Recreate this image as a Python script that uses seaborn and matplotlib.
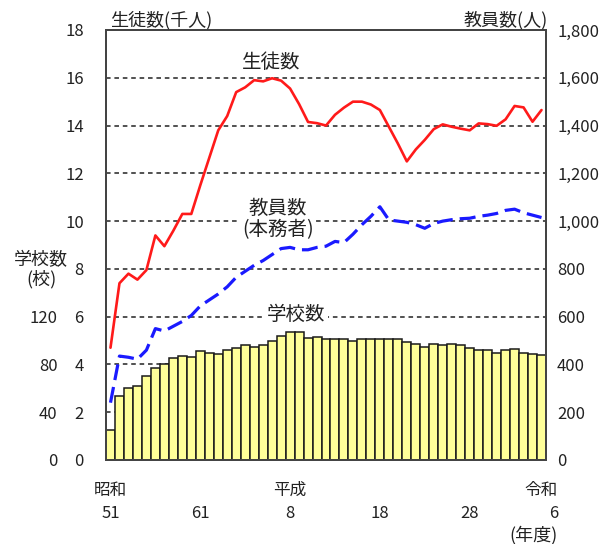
import numpy as np
import pandas as pd
import matplotlib
matplotlib.use("Agg")
import matplotlib.pyplot as plt
import seaborn as sns

years = list(range(1976, 2025))
schools = [25, 54, 60, 62, 70, 77, 80, 85, 87, 86, 91, 90, 89, 92, 94, 96, 95, 96, 100, 104,
           107, 107, 102, 103, 101, 101, 101, 100, 101, 101, 101, 101, 101, 99, 97, 95, 97, 96, 97, 96,
           94, 92, 92, 90, 92, 93, 90, 89, 88]
students = [4.7, 7.4, 7.8, 7.55, 7.95, 9.4, 8.95, 9.6, 10.3, 10.3, 11.5, 12.65, 13.8, 14.4, 15.4,
            15.6, 15.9, 15.85, 15.98, 15.88, 15.55, 14.9, 14.15, 14.1, 14.0, 14.45, 14.75, 15.0, 15.0,
            14.88, 14.65, 13.95, 13.25, 12.5, 13.0, 13.4, 13.85, 14.05, 13.95, 13.87, 13.8, 14.09,
            14.06, 13.99, 14.26, 14.82, 14.76, 14.16, 14.65]
teachers = [240, 435, 430, 422, 460, 550, 540, 560, 580, 605, 645, 670, 695, 725, 765, 790, 815, 835,
            860, 885, 890, 880, 880, 890, 895, 915, 910, 945, 985, 1020, 1060, 1005, 1000, 995, 985,
            970, 990, 1000, 1006, 1010, 1012, 1020, 1025, 1032, 1045, 1050, 1035, 1025, 1015]

x_tick_years = [1976, 1986, 1996, 2006, 2016, 2024]
x_tick_labels = ["昭和\n51", "\n61", "平成\n8", "\n18", "\n28", "令和\n6"]
student_ticks = list(range(0, 19, 2))
school_ticks = [0, 40, 80, 120]
teacher_ticks = list(range(0, 1801, 200))

sns.set_theme(style="white")
plt.rcParams["font.family"] = ["Noto Sans CJK JP", "DejaVu Sans"]

TXT = "#222222"
df = pd.DataFrame({"year": years, "schools": schools, "students": students, "teachers": teachers})

fig = plt.figure(figsize=(6.16, 5.44), dpi=100)
ax = fig.add_axes([106 / 616, 84 / 544, 440 / 616, 430 / 544])

sns.barplot(data=df, x="year", y="schools", native_scale=True, width=1, color="#FFFF99",
            edgecolor="#1a1a1a", linewidth=1.1, saturation=1, ax=ax, zorder=2)
ax.set_ylim(0, 360)
grid_vals = [t * 20 for t in student_ticks]
ax.set_yticks(grid_vals)
ax.set_yticklabels([str(v) if v in school_ticks else "" for v in grid_vals])
ax.yaxis.grid(True, linestyle=(0, (3, 2.5)), color="#222222", linewidth=1.1, zorder=0)
ax.set_axisbelow(True)
ax.tick_params(axis="y", length=0, pad=35, labelsize=12, labelcolor=TXT)
ax.set_xticks(x_tick_years)
ax.set_xticklabels(x_tick_labels)
ax.tick_params(axis="x", length=0, pad=16, labelsize=12, labelcolor=TXT)
for lbl in ax.get_xticklabels():
    lbl.set_linespacing(1.45)
    if lbl.get_text().startswith("令和"):
        lbl.set_multialignment("right")
ax.set_xlabel("")
ax.set_ylabel("")

ax2 = ax.twinx()
sns.lineplot(data=df, x="year", y="students", ax=ax2, color="#ff1a1a", linewidth=1.9)
ax2.set_ylim(0, 18)
ax2.yaxis.tick_left()
ax2.set_yticks(student_ticks)
ax2.set_yticklabels([str(v) for v in student_ticks])
ax2.tick_params(axis="y", length=0, pad=16, labelsize=12, labelcolor=TXT)
ax2.set_ylabel("")

ax3 = ax.twinx()
sns.lineplot(data=df, x="year", y="teachers", ax=ax3, color="#1a1aff", linewidth=2.3,
             linestyle=(0, (5, 2.2)))
ax3.set_ylim(0, 1800)
ax3.set_yticks(teacher_ticks)
ax3.set_yticklabels([f"{v:,}" for v in teacher_ticks])
ax3.tick_params(axis="y", length=0, pad=8, labelsize=12, labelcolor=TXT)
ax3.set_ylabel("")

for a in (ax, ax2, ax3):
    a.set_xlim(1975.5, 2024.5)
    for s in a.spines.values():
        s.set_color("#444444")
        s.set_linewidth(1.2)

bb = dict(facecolor="white", edgecolor="none", pad=1.5)
ax2.text(1993.9, 16.62, "生徒数", ha="center", va="center", fontsize=14, color=TXT, bbox=bb)
ax2.text(1994.65, 10.1, "教員数\n(本務者)", ha="center", va="center", fontsize=14, color=TXT,
         bbox=bb, linespacing=1.0)
ax2.text(1996.7, 6.1, "学校数", ha="center", va="center", fontsize=14, color=TXT, bbox=bb)

fig.text(110 / 616, 1 - 20 / 544, "生徒数(千人)", ha="left", va="center", fontsize=13, color=TXT)
fig.text(548 / 616, 1 - 20 / 544, "教員数(人)", ha="right", va="center", fontsize=13, color=TXT)
fig.text(41 / 616, 1 - 270 / 544, "学校数\n(校)", ha="center", va="center", fontsize=13,
         color=TXT, linespacing=1.1)
fig.text(558 / 616, 1 - 535 / 544, "(年度)", ha="right", va="center", fontsize=13, color=TXT)

fig.savefig("out.png", dpi=100)
